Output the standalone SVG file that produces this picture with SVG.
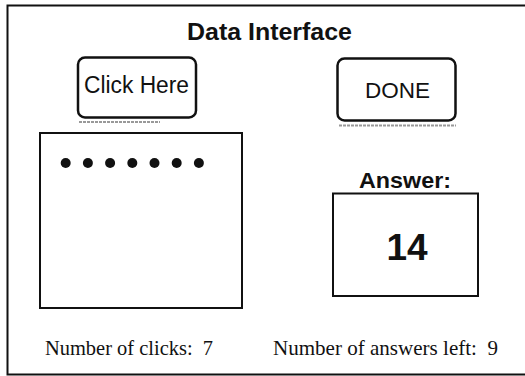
<svg xmlns="http://www.w3.org/2000/svg" width="525" height="376" viewBox="0 0 525 376">
<style>
.sans{font-family:"Liberation Sans",Arial,sans-serif;fill:#111;}
.bold{font-weight:bold;}
.serif{font-family:"Liberation Serif","Times New Roman",serif;fill:#111;font-size:21px;}
.box{fill:#fff;stroke:#111;stroke-width:2;}
.btn{fill:#fff;stroke:#111;stroke-width:2.5;}
.shadow{stroke:#999;stroke-width:2;stroke-dasharray:3 1;fill:none;}
</style>
<rect width="525" height="376" fill="#fff"/>
<g id="frame">
<path d="M530,5.5 H7.5 V374.5 H530" fill="none" stroke="#111" stroke-width="2"/>
</g>
<g id="title">
<text class="sans bold" x="269.5" y="40" font-size="23" text-anchor="middle" textLength="165" lengthAdjust="spacingAndGlyphs">Data Interface</text>
</g>
<g id="click-button">
<path class="shadow" d="M79,122 H160"/>
<rect class="btn" x="78" y="57.5" width="118" height="60" rx="7"/>
<text class="sans" x="136.5" y="93" font-size="23" text-anchor="middle" textLength="105" lengthAdjust="spacingAndGlyphs">Click Here</text>
</g>
<g id="done-button">
<path class="shadow" d="M339,125.5 H456"/>
<rect class="btn" x="337.5" y="58.5" width="118" height="62" rx="7"/>
<text class="sans" x="397.5" y="98" font-size="22" text-anchor="middle" textLength="65" lengthAdjust="spacingAndGlyphs">DONE</text>
</g>
<g id="dots-box">
<rect class="box" x="40" y="133" width="202" height="175"/>
<g fill="#111">
<circle cx="65.7" cy="163" r="5"/>
<circle cx="87.9" cy="163" r="5"/>
<circle cx="110.1" cy="163" r="5"/>
<circle cx="132.3" cy="163" r="5"/>
<circle cx="154.5" cy="163" r="5"/>
<circle cx="176.7" cy="163" r="5"/>
<circle cx="198.9" cy="163" r="5"/>
</g>
</g>
<g id="answer">
<text class="sans bold" x="405" y="188" font-size="22" text-anchor="middle" textLength="92" lengthAdjust="spacingAndGlyphs">Answer:</text>
<rect class="box" x="333" y="193.5" width="145" height="102.5"/>
<text class="sans bold" x="407" y="260" font-size="37" text-anchor="middle">14</text>
</g>
<g id="status">
<text class="serif" x="45" y="355" textLength="168" lengthAdjust="spacingAndGlyphs" xml:space="preserve">Number of clicks:  7</text>
<text class="serif" x="273" y="355" textLength="225" lengthAdjust="spacingAndGlyphs" xml:space="preserve">Number of answers left:  9</text>
</g>
</svg>
